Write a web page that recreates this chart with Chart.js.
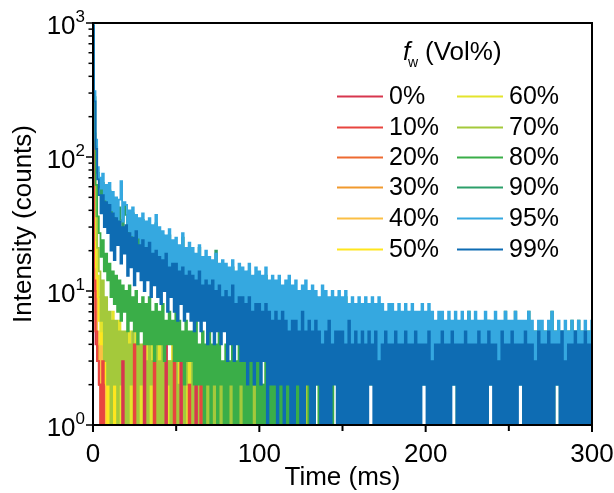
<!DOCTYPE html>
<html>
<head>
<meta charset="utf-8">
<script src="https://cdn.jsdelivr.net/npm/chart.js@4.4.1/dist/chart.umd.min.js"></script>
<style>
  html, body { margin: 0; padding: 0; background: #fff; }
  #wrap { width: 614px; height: 493px; }
</style>
</head>
<body>
<div id="wrap"><canvas id="chart" width="614" height="493"></canvas></div>
<script>
// sampling step of the decay traces (ms per channel)
const stepMs = 1;

// water fraction of each trace
const fractions = ['0%', '10%', '20%', '30%', '40%', '50%', '60%', '70%', '80%', '90%', '95%', '99%'];
const colors = ['#d7364f', '#e8453f', '#ee6a31', '#f19a2e', '#fbbf45', '#ffe61e',
                '#e4e42c', '#a4c93b', '#3aae48', '#2c9f6a', '#35a8e0', '#0e6cb3'];

// axis ticks
const xMajorTicks = [0, 100, 200, 300];
const xMinorTicks = [50, 150, 250];
const yDecades = [1, 10, 100, 1000];
const yExponents = ['0', '1', '2', '3'];

// counts per channel; each trace swings between the low
// and high edge of its noisy band (values on the floor read as 1)
const counts0 = [450,10,4,3,2, 1,2,1,1,1, 1,1,1,1,1,1,1,1,3,1, 1,1,1,1,1,1,1,1,1,1,
  1,4,1,1,1,1,1,1,1,1, 1,1,1,1,5,1,1,1,1,1, 1,1,1,3,1,1,1,1,1,1,
  1,1,3,1,1,1,1,1,1,1, 1,1,1,1,1,1,1,1,1,1,1];
const counts10 = [500,12,5,3,2, 1,3,1,1,1, 1,1,1,1,1,1,1,1,1,1, 1,1,1,1,1,4,1,1,1,1,
  1,1,1,1,1,1,1,3,1,1, 1,1,1,1,1,1,1,1,1,4, 1,1,1,1,1,1,1,1,2,1,
  1,1,1,1,1,3,1,1,1,1, 1,1,1,1,1,1,1,1,1,1,1];
const counts20 = [500,14,5,3,2,1,3,1,2,1,1,1,1];
const counts30 = [550,18,7,4,3,1,3,1,2,1,2,1,1,2,1,1];
const counts40 = [600,25,9,5,4,2,4,1,3,1,3,1,2,1,2,1,2,1,1,1,1];
const counts50 = [600,40,15,9,6, 4,7,2,5,1, 4,1,3,1,4,1,3,1,3,1, 3,1,2,1,3,1,2,1,3,1,
  2,1,3,1,2,1,2,1,3,1, 2,1,2,1,3,1,2,1,2,1, 2,1,2,1,2,1,3,1,2,1,1];
const counts60 = [700,60,24,13,9, 5,9,3,7,2, 5,1,7,2,4,1,6,1,4,1, 4,1,5,1,3,2,5,1,3,1,
  3,1,4,1,3,1,4,1,3,1, 4,1,2,1,3,1,3,1,4,1, 2,1,3,1,2,1,3,1,3,1,
  2,1,3,1,2,1,2,1,3,1, 2,1,2,1,2,1,2,1,2,1, 2,1,2,1,1,2,1,2,1,1,
  2,1,1,2,1,1,2,1,1,1,1];
const counts70 = [800,90,36,21,14, 6,12,3,9,2, 7,1,6,2,6,1,5,2,5,1, 5,1,4,2,5,1,4,1,4,2,
  4,1,3,1,4,2,3,1,4,1, 3,1,4,1,3,2,3,1,3,1, 3,1,2,1,3,1,3,2,2,1,
  3,1,2,1,2,1,3,1,2,1, 2,1,2,1,3,1,2,1,2,1, 2,1,2,1,2,1,2,1,3,1,
  2,1,2,1,2,1,2,1,2,1, 2,1,2,1,1,2,1,2,1,1, 2,1,1,2,1,1,2,1,1,1,
  2,1,1,1,2,1,1,1,1,2,1];
const counts80 = [900,150,62,36,27, 18,24,14,19,12, 16,9,14,8,13,7,12,6,11,7,
  10,5,11,6,9,5,10,4,8,5, 9,4,8,4,9,4,7,3,8,4, 7,4,8,3,6,4,7,4,6,3,
  7,3,6,3,5,2,6,3,5,3, 5,2,6,2,4,2,5,1,4,2, 5,1,4,2,4,1,5,2,3,1,
  4,1,3,2,4,1,3,1,4,2, 3,1,4,1,3,1,3,2,3,1, 3,1,2,1,3,1,2,1,3,1,
  2,1,3,1,2,1,2,1,2,1, 2,1,2,1,2,1,1,2,1,1, 2,1,1,2,1,1,2,1,1,1,
  2,1,1,1,2,1,1,1,2,1,1];
const counts90 = [980,280,120,76,60, 52,64,44,55,40, 56,36,48,33,46,31,42,34,30,44,
  37,25,34,23,38,22,32,21,30,20, 34,19,29,18,31,17,27,16,32,15,
  27,14,26,13,22,13,26,12,21,12, 22,11,20,10,25,10,18,9,21,9,
  19,9,17,8,21,8,16,8,18,7, 16,7,15,7,20,6,14,6,15,6,
  14,6,13,6,15,5,12,5,14,5, 13,5,12,5,14,4,11,5,13,4,
  12,4,11,4,13,4,10,4,11,3, 10,4,11,3,10,4,10,3,11,3,
  9,3,10,3,9,3,10,3,10,3, 9,3,9,3,9,2,8,3,9,2,
  8,3,8,2,9,3,8,2,9,2, 8,2,9,3,7,2,8,2,7,2,
  8,2,7,2,8,2,7,2,8,2, 7,2,8,2,7,2,6,2,7,2,
  7,2,6,2,7,2,6,2,7,2, 6,2,7,2,6,2,6,2,7,2,
  6,2,7,2,6,1,5,2,6,2, 6,2,5,1,6,2,5,2,6,1,
  5,2,6,2,5,1,7,2,5,2, 6,1,5,2,5,2,6,1,6,2,
  5,2,6,1,5,2,5,2,7,1, 5,2,5,1,7,2,5,2,5,1,
  5,2,7,1,5,2,5,2,5,1, 5,2,5,1,5,2,7,1,5,2,
  5,1,5,2,5,2,5,1,6,2, 5,1,6,2,5,2,5,1,5,2,5];
const counts95 = [1000,310,135,84,70, 58,75,48,62,45, 64,40,55,36,50,34,48,66,33,46,
  44,28,40,26,42,24,37,25,35,22, 38,21,33,20,35,19,31,18,37,17,
  30,16,28,15,26,14,29,15,24,13, 25,13,22,12,27,11,21,12,23,11,
  21,10,19,11,22,9,18,10,20,9, 18,9,17,8,19,8,16,9,17,8,
  16,7,15,8,17,7,14,7,16,6, 15,7,14,6,16,6,13,7,15,6,
  14,5,13,6,15,5,12,6,13,5, 12,5,13,4,11,5,12,4,13,5,
  11,4,12,5,10,4,11,4,12,3, 10,4,11,3,10,4,9,3,11,4,
  10,3,9,4,10,3,9,3,10,4, 9,3,10,3,8,4,9,3,8,3,
  9,3,8,2,9,3,8,3,9,2, 8,3,9,2,8,3,7,3,8,2,
  8,2,7,3,8,2,7,2,8,3, 7,2,8,2,7,3,7,2,8,2,
  7,2,8,2,7,2,6,3,7,2, 7,2,6,2,7,2,6,2,7,3,
  6,2,7,2,6,2,7,2,6,2, 7,2,6,2,6,3,7,2,6,2,
  6,2,7,2,6,2,6,2,7,2, 6,2,6,2,7,2,6,2,6,2,
  6,2,7,2,6,2,5,2,6,2, 6,2,5,2,6,2,7,2,5,2,
  6,2,5,2,6,2,5,2,6,2, 5,2,6,2,5,2,6,2,5,2,6];
const counts99 = [950,260,115,68,52, 38,52,30,46,27, 44,20,38,17,35,22,33,16,30,19,
  31,13,27,15,25,11,28,14,22,12, 24,10,21,12,23,9,19,11,20,9,
  18,8,17,10,19,7,15,9,16,7, 16,6,14,8,15,6,13,7,14,6,
  13,5,12,6,14,5,11,6,12,4, 11,5,12,4,10,5,11,4,9,5,
  10,3,9,4,11,3,8,4,9,3, 9,3,8,2,9,3,7,2,8,3,
  8,2,7,3,8,1,7,2,6,2, 7,1,6,2,7,1,6,2,5,1,
  6,1,6,2,5,1,7,1,5,2, 6,1,5,1,6,2,5,1,4,1,
  5,1,6,1,4,2,5,1,5,1, 5,1,4,1,6,1,4,1,5,1,
  4,1,5,1,4,1,5,2,4,1, 5,1,3,1,4,1,5,1,4,1,
  4,1,5,1,4,1,4,1,5,1, 4,1,4,1,5,1,4,1,4,2,
  4,1,5,1,3,1,4,1,4,1, 5,1,4,1,4,1,5,2,4,1,
  4,1,4,1,5,1,4,1,4,1, 4,1,5,1,4,1,4,1,5,2,
  4,1,4,1,3,1,5,1,4,1, 4,1,5,1,4,1,4,2,4,1,
  5,1,4,1,4,1,3,1,5,1, 4,1,4,1,5,1,4,1,4,2,
  4,1,5,1,3,1,4,1,4,1, 5,1,4,1,4,1,5,1,4,1,4];

const seriesCounts = [counts0, counts10, counts20, counts30, counts40, counts50,
                      counts60, counts70, counts80, counts90, counts95, counts99];

// stacking of the traces, bottom to top (index into fractions)
const stackBottomToTop = [2, 3, 4, 5, 6, 7, 0, 1, 8, 9, 10, 11];

const FONT = '"Liberation Sans", Arial, Helvetica, sans-serif';

// Frame, ticks, labels, titles and legend drawn on top of the traces
const framePlugin = {
  id: 'frame',
  afterDatasetsDraw(chart) {
    const ctx = chart.ctx;
    const a = chart.chartArea;
    const xs = chart.scales.x;
    const ys = chart.scales.y;
    const seg = (x1, y1, x2, y2) => {
      ctx.beginPath();
      ctx.moveTo(x1, y1);
      ctx.lineTo(x2, y2);
      ctx.stroke();
    };
    ctx.save();
    ctx.strokeStyle = '#000';
    ctx.fillStyle = '#000';
    ctx.lineWidth = 2;
    ctx.strokeRect(a.left, a.top, a.right - a.left, a.bottom - a.top);

    // x ticks
    for (const v of xMajorTicks) {
      const px = xs.getPixelForValue(v);
      seg(px, a.bottom, px, a.bottom + 7);
    }
    for (const v of xMinorTicks) {
      const px = xs.getPixelForValue(v);
      seg(px, a.bottom, px, a.bottom + 6);
    }
    ctx.font = '26px ' + FONT;
    ctx.textAlign = 'center';
    ctx.textBaseline = 'alphabetic';
    for (const v of xMajorTicks) {
      ctx.fillText(String(v), xs.getPixelForValue(v), 462);
    }

    // y ticks (log)
    ctx.lineWidth = 1.5;
    yDecades.forEach((d, i) => {
      const py = ys.getPixelForValue(d);
      seg(a.left - 7, py, a.left, py);
      if (i < yDecades.length - 1) {
        for (let m = 2; m <= 9; m++) {
          const pm = ys.getPixelForValue(m * d);
          seg(a.left - 4.5, pm, a.left, pm);
        }
      }
      // label 10^n
      ctx.textAlign = 'right';
      ctx.font = '17px ' + FONT;
      const expW = ctx.measureText(yExponents[i]).width;
      ctx.fillText(yExponents[i], a.left - 8, py - 1);
      ctx.font = '26px ' + FONT;
      ctx.fillText('10', a.left - 8 - expW, py + 11);
    });

    // axis titles
    ctx.font = '26px ' + FONT;
    ctx.textAlign = 'center';
    ctx.fillText('Time (ms)', (a.left + a.right) / 2, 485);
    ctx.save();
    ctx.translate(31, (a.top + a.bottom) / 2);
    ctx.rotate(-Math.PI / 2);
    ctx.fillText('Intensity (counts)', 0, 0);
    ctx.restore();

    // legend title: f_w (Vol%)
    ctx.textAlign = 'left';
    ctx.font = 'italic 26px ' + FONT;
    ctx.fillText('f', 403, 60);
    ctx.font = '14px ' + FONT;
    ctx.fillText('w', 408, 67);
    ctx.font = '26px ' + FONT;
    ctx.fillText('(Vol%)', 425, 60);

    // legend entries, two columns of six
    const rowY = [96, 127, 157, 187, 218, 249];
    ctx.lineWidth = 2;
    ctx.textBaseline = 'middle';
    ctx.font = '25px ' + FONT;
    fractions.forEach((f, i) => {
      const col = i < 6 ? 0 : 1;
      const y = rowY[i % 6] + 0.5;
      const x0 = col === 0 ? 337 : 457;
      ctx.strokeStyle = colors[i];
      seg(x0, y, x0 + 46, y);
      ctx.fillText(f, x0 + 52, y + 1);
    });
    ctx.restore();
  }
};

const datasets = fractions.map((f, i) => ({
  label: f,
  data: seriesCounts[i].map((c, k) => ({ x: k * stepMs, y: c })),
  borderColor: colors[i],
  backgroundColor: colors[i],
  borderWidth: 1.8,
  stepped: 'middle',
  pointRadius: 0,
  fill: false,
  // chart.js paints higher order first, so the top trace gets the lowest
  order: fractions.length - stackBottomToTop.indexOf(i)
}));

new Chart(document.getElementById('chart'), {
  type: 'line',
  data: { datasets: datasets },
  options: {
    responsive: false,
    animation: false,
    devicePixelRatio: 1,
    layout: { padding: { left: 93, top: 23, right: 22, bottom: 68 } },
    plugins: {
      legend: { display: false },
      tooltip: { enabled: false }
    },
    scales: {
      x: { type: 'linear', min: 0, max: 300, display: false },
      y: { type: 'logarithmic', min: 1, max: 1000, display: false }
    }
  },
  plugins: [framePlugin]
});
</script>
</body>
</html>
